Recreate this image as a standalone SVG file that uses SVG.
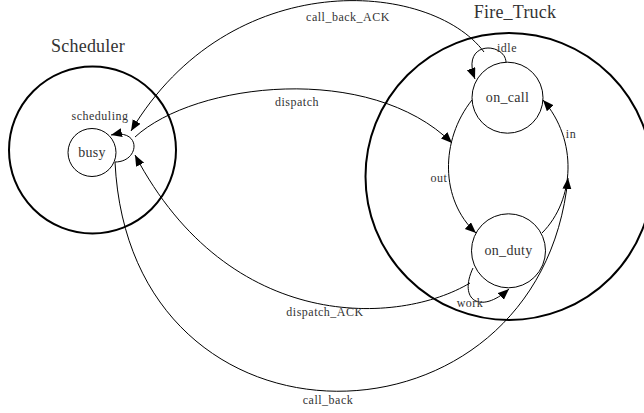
<svg xmlns="http://www.w3.org/2000/svg" width="644" height="413" viewBox="0 0 644 413">
<defs>
<marker id="ah" markerUnits="userSpaceOnUse" markerWidth="12" markerHeight="10" refX="11" refY="4.5" orient="auto">
<path d="M0,0 L11,4.5 L0,9 z" fill="#000"/>
</marker>
<style>
.cl{fill:none;stroke:#000;stroke-width:2}
.nd{fill:#fff;stroke:#000;stroke-width:1}
.e{fill:none;stroke:#000;stroke-width:1;marker-end:url(#ah)}
.t{font-family:"Liberation Serif","Times New Roman",serif;fill:#333;text-anchor:middle}
.ct{font-size:18px;letter-spacing:0.2px}
.nt{font-size:14px;letter-spacing:0.3px}
.et{font-size:12px;letter-spacing:0.5px}
</style>
</defs>
<rect width="644" height="413" fill="#fff"/>
<g id="cluster_scheduler">
<circle class="cl" cx="92.5" cy="150" r="83.5"/>
<text class="t ct" x="88" y="52">Scheduler</text>
</g>
<g id="cluster_firetruck">
<circle class="cl" cx="509" cy="176.5" r="143.5"/>
<text class="t ct" x="515" y="18">Fire_Truck</text>
</g>
<g id="connectors">
<path class="e" d="M115,162 C140,162 142,128 111,135"/>
<text class="t et" x="100" y="120">scheduling</text>
<path class="e" d="M484,52 C430,-20 230,-35 131,131"/>
<text class="t et" x="348" y="21">call_back_ACK</text>
<path class="e" d="M135,137 C195,82 370,62 452,143"/>
<text class="t et" x="297" y="106">dispatch</text>
<path class="e" d="M470,283 C400,325 230,335 135,155"/>
<text class="t et" x="325" y="316">dispatch_ACK</text>
<path class="e" d="M115,162 C130,470 540,460 568,178"/>
<text class="t et" x="328" y="404">call_back</text>
<path class="e" d="M506,62 C505,42 460,40 475,79"/>
<text class="t et" x="507" y="52">idle</text>
<path class="e" d="M472,100 C440,140 440,200 476,233"/>
<text class="t et" x="439" y="182">out</text>
<path class="e" d="M542,233 C575,200 578,140 543,100"/>
<text class="t et" x="571" y="138">in</text>
<path class="e" d="M473,268 C458,300 480,315 509,289"/>
<text class="t et" x="470" y="307">work</text>
</g>
<g id="busy">
<circle class="nd" cx="92" cy="152.5" r="24"/>
<text class="t nt" x="92" y="157">busy</text>
</g>
<g id="on_call">
<circle class="nd" cx="507.5" cy="97.7" r="35.5"/>
<text class="t nt" x="507.5" y="102">on_call</text>
</g>
<g id="on_duty">
<circle class="nd" cx="508.5" cy="250.8" r="37"/>
<text class="t nt" x="508.5" y="255">on_duty</text>
</g>
</svg>
